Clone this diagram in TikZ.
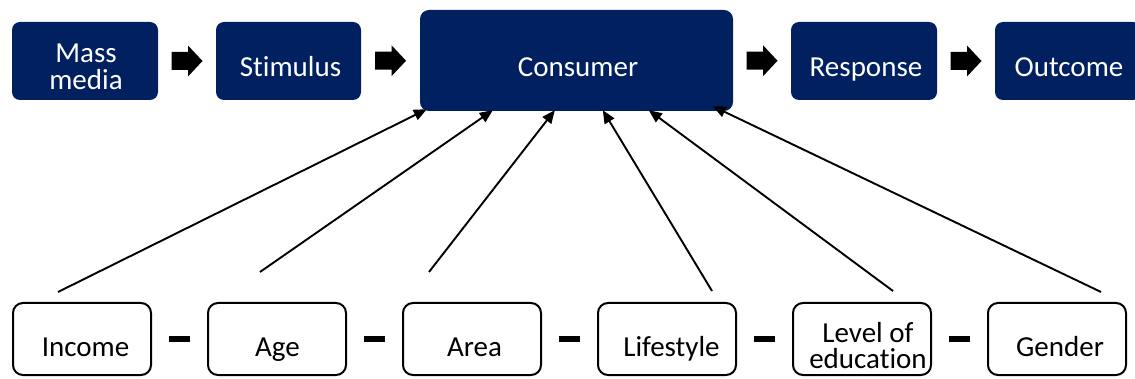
\documentclass[tikz,border=0pt]{standalone}
\usepackage{fontspec}
\setmainfont{Carlito}[RawFeature=-liga]
\usetikzlibrary{calc,arrows.meta}
\definecolor{navy}{HTML}{002060}
\newcommand\diagfont{\fontsize{29}{26.5}\selectfont}
\newcommand\blockarrow[2]{\fill ($(#1.east)!0.5!(#2.west)$) ++(-15.5,-9) -- ++(16.5,0) -- ++(0,-6.5) -- ++(14.5,15.5) -- ++(-14.5,15.5) -- ++(0,-6.5) -- ++(-16.5,0) -- cycle;}
\newcommand\dashlink[2]{\fill ($(#1.east)!0.5!(#2.west)$) +(-10.5,-3) rectangle +(10.5,3);}
\begin{document}
\begin{tikzpicture}[x=1pt,y=-1pt,
  topbox/.style={fill=navy, draw=none, rounded corners=8pt, inner sep=0pt, minimum height=78pt, minimum width=146pt},
  botbox/.style={draw=black, line width=2pt, rounded corners=10pt, fill=white, inner sep=0pt, minimum width=138pt, minimum height=72pt},
  toptext/.style={text=white, font=\diagfont, inner sep=0pt, anchor=base},
  toptwo/.style={text=white, font=\diagfont, inner sep=0pt, align=center, anchor=center},
  bottext/.style={text=black, font=\diagfont, inner sep=0pt, anchor=base},
  bottwo/.style={text=black, font=\diagfont, inner sep=0pt, align=center, anchor=center},
  conn/.style={line width=1.9pt, -{Triangle[length=13pt,width=11pt]}}]
\useasboundingbox (0,0) rectangle (1135,379);

% top row
\node[topbox] (mass) at (85,61) {};
\node[topbox, minimum width=145pt] (stim) at (288.5,61) {};
\node[topbox, rounded corners=9pt, minimum width=313pt, minimum height=101pt] (cons) at (576.5,60.5) {};
\node[topbox] (resp) at (864,61) {};
\node[topbox] (outc) at (1068,61) {};

\node[toptwo] (t-mass) at ($(mass.center)+(1,6)$) {Mass\\media};
\node[toptext] (t-stim) at ($(stim.center)+(2,16)$) {Stimulus};
\node[toptext] (t-cons) at ($(cons.center)+(1.5,16.5)$) {Consumer};
\node[toptext] (t-resp) at ($(resp.center)+(2,16)$) {Response};
\node[toptext] (t-outc) at ($(outc.center)+(1,16)$) {Outcome};

\blockarrow{mass}{stim}
\blockarrow{stim}{cons}
\blockarrow{cons}{resp}
\blockarrow{resp}{outc}

% bottom row
\node[botbox] (inc) at (82,339) {};
\node[botbox] (age) at (277,339) {};
\node[botbox] (area) at (472,339) {};
\node[botbox] (life) at (667,339) {};
\node[botbox] (edu) at (862,339) {};
\node[botbox] (gen) at (1057,339) {};

\node[bottext] (t-inc) at ($(inc.center)+(3.5,17)$) {Income};
\node[bottext] (t-age) at ($(age.center)+(0.5,17)$) {Age};
\node[bottext] (t-area) at ($(area.center)+(2.5,17)$) {Area};
\node[bottext] (t-life) at ($(life.center)+(4.5,17)$) {Lifestyle};
\node[bottwo] (t-edu) at ($(edu.center)+(6,6.5)$) {Level of\\education};
\node[bottext] (t-gen) at ($(gen.center)+(3,17)$) {Gender};

\dashlink{inc}{age}
\dashlink{age}{area}
\dashlink{area}{life}
\dashlink{life}{edu}
\dashlink{edu}{gen}

% influence arrows
\coordinate (s-inc) at (58,292);
\coordinate (s-age) at (260,272);
\coordinate (s-area) at (429,272);
\coordinate (s-life) at (712,291);
\coordinate (s-edu) at (893,291);
\coordinate (s-gen) at (1101,292);

\draw[conn] (s-inc) -- ([shift={(7,-2)}]cons.south west);
\draw[conn] (s-age) -- ([shift={(73,-1)}]cons.south west);
\draw[conn] (s-area) -- ([shift={(135,-1)}]cons.south west);
\draw[conn] (s-life) -- ([shift={(183,-1)}]cons.south west);
\draw[conn] (s-edu) -- ([shift={(229,-1)}]cons.south west);
\draw[conn] (s-gen) -- ([shift={(293,-5)}]cons.south west);
\end{tikzpicture}
\end{document}
